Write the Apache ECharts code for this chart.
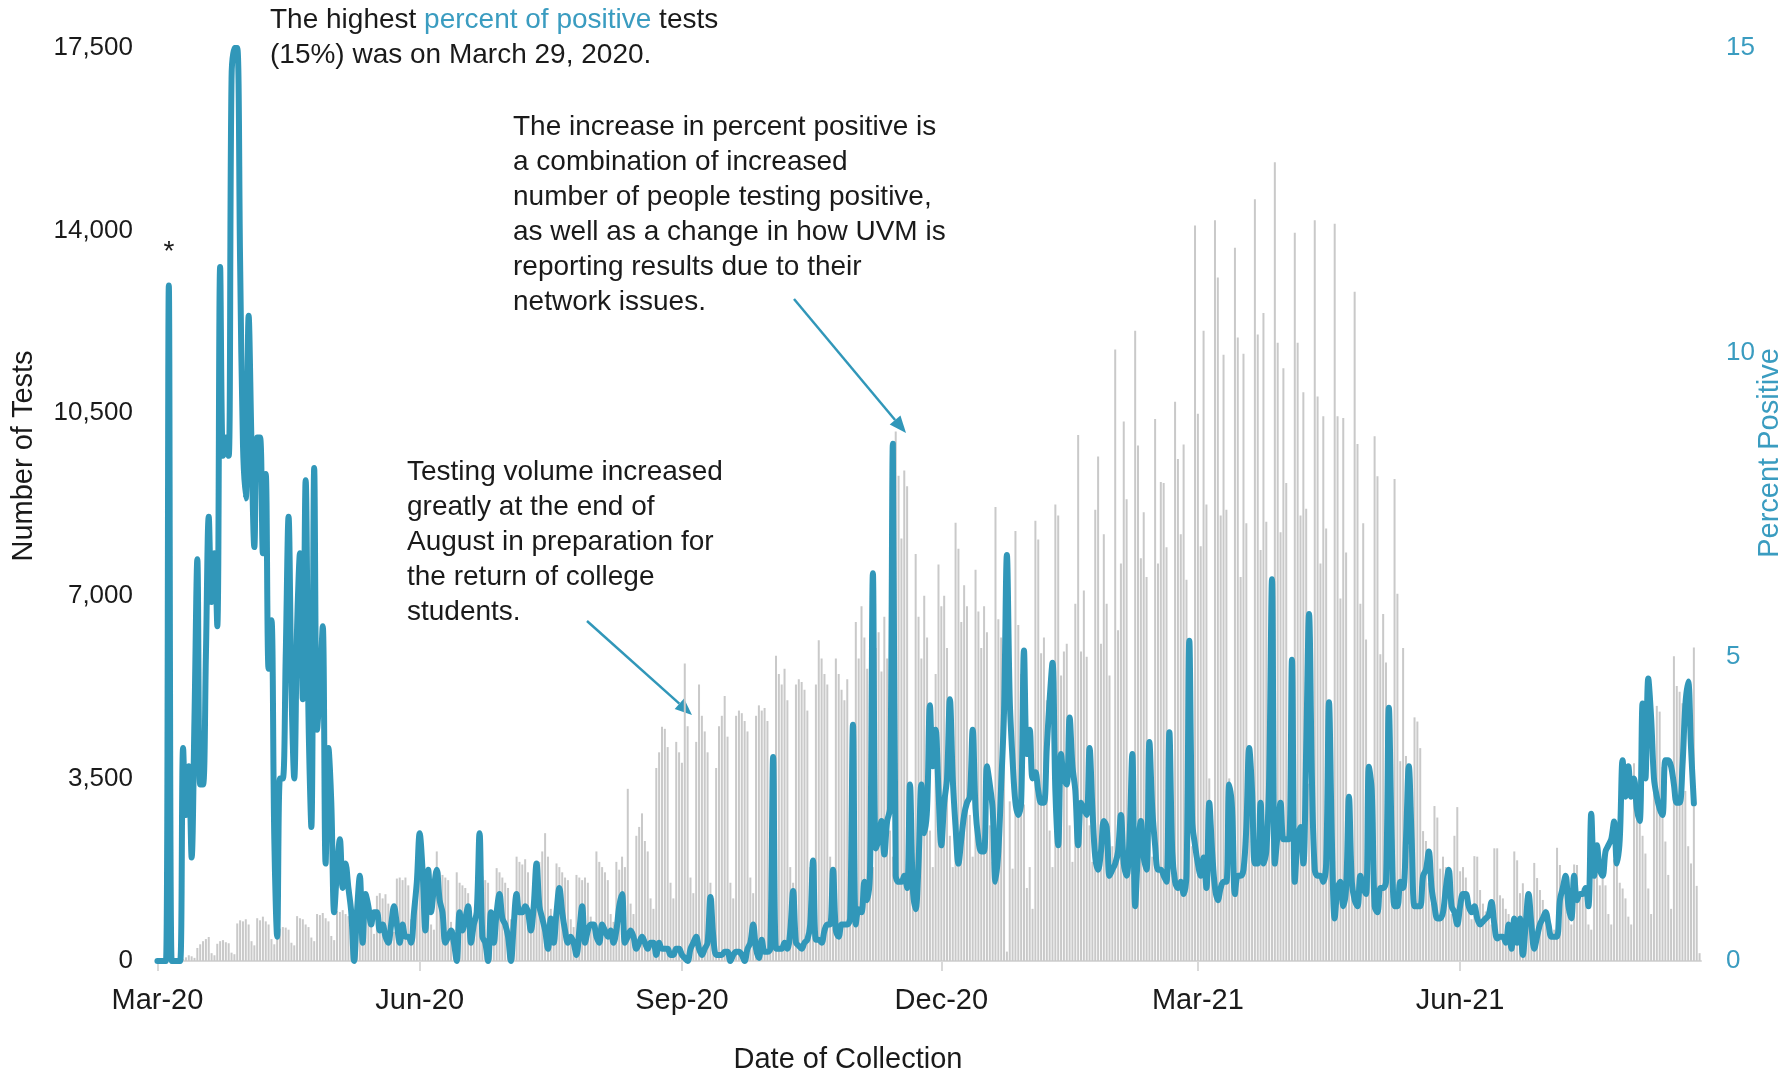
<!DOCTYPE html>
<html>
<head>
<meta charset="utf-8">
<title>Tests and percent positive</title>
<script src="https://cdn.jsdelivr.net/npm/echarts@6/dist/echarts.min.js"></script>
<style>
  html, body { margin: 0; padding: 0; background: #fff; }
  #chart { width: 1787px; height: 1075px; }
</style>
</head>
<body>
<div id="chart"></div>
<script>
// daily values from 2020-03-01, one row per week
const testsPerDay = [
  0, 0, 0, 2, 9, 1, 1,
  3, 6, 40, 70, 110, 90, 60,
  250, 320, 380, 420, 460, 150, 110,
  330, 380, 400, 360, 340, 160, 130,
  720, 780, 760, 800, 700, 380, 300,
  820, 780, 850, 760, 700, 420, 320,
  600, 620, 650, 640, 600, 350, 300,
  860, 820, 800, 700, 650, 450, 380,
  900, 880, 920, 820, 760, 480, 400,
  960, 940, 975, 900, 860, 520, 450,
  1280, 1300, 1320, 1250, 1150, 650, 520,
  1250, 1300, 1200, 1280, 1100, 700, 560,
  1580, 1600, 1550, 1600, 1450, 800, 650,
  1700, 1650, 1600, 1650, 1500, 700, 600,
  2100, 1700, 1650, 1600, 1550, 750, 600,
  1700, 1500, 1450, 1400, 1300, 700, 550,
  1650, 1600, 1620, 1550, 1500, 750, 600,
  1780, 1700, 1600, 1500, 1400, 800, 650,
  2000, 1900, 1850, 1950, 1700, 850, 700,
  1700, 1900, 2100, 2450, 2000, 1000, 800,
  1870, 1800, 1700, 1600, 1550, 800, 650,
  1650, 1600, 1550, 1600, 1500, 850, 700,
  2100, 1900, 1800, 1700, 1550, 900, 750,
  1900, 1750, 2000, 1800, 3300, 1100, 900,
  2400, 2570, 2830, 2300, 2100, 1200, 1000,
  3700, 4000, 4490, 4450, 4100, 1500, 1200,
  4200, 4000, 3800, 5700, 4500, 1600, 1300,
  4200, 5300, 4700, 4400, 4000, 1500, 1200,
  3700, 4500, 4700, 5080, 4300, 1500, 1200,
  4700, 4800, 4750, 4600, 4400, 1600, 1300,
  4700, 4900, 4800, 4850, 4600, 1700, 1400,
  5850, 5500, 5300, 5600, 5000, 1800, 1500,
  5300, 5400, 5350, 5200, 4800, 1800, 1500,
  5300, 6150, 5800, 5500, 5300, 2000, 1600,
  5800, 5500, 5200, 5000, 5400, 2000, 1600,
  6500, 5800, 6800, 6200, 5600, 2200, 1800,
  6000, 6300, 5550, 6600, 5800, 2500, 2000,
  10150, 9300, 8100, 9400, 9100, 3000, 2200,
  7800, 6600, 5800, 7000, 6200, 2500, 1800,
  5500, 7600, 6800, 7000, 6000, 2400, 1800,
  8400, 7900, 6500, 7200, 6800, 2800, 2000,
  7500, 6700, 6000, 6800, 6300, 2600, 1900,
  8700, 6550, 6200, 5800, 180, 3060, 1770,
  8240, 6440, 5500, 3000, 1400, 1800, 1000,
  8440, 8080, 5900, 6200, 5000, 2500, 1800,
  8750, 8540, 5470, 5930, 6080, 2600, 1900,
  6850, 10080, 5930, 7100, 5830, 2600, 1900,
  8650, 9670, 6080, 8180, 6850, 5470, 2200,
  11720, 6340, 7620, 10340, 8850, 3000, 2000,
  12080, 9880, 7720, 8600, 7360, 3000, 2000,
  10390, 7620, 9180, 9160, 7930, 3200, 2200,
  10720, 9620, 8180, 9900, 7310, 3200, 2200,
  14100, 10490, 7950, 12080, 8750, 3500, 2400,
  14200, 13100, 8540, 11620, 8650, 3500, 2400,
  13670, 11950, 7360, 11640, 8390, 3400, 2300,
  14600, 12010, 7880, 12420, 8420, 3500, 2400,
  15310, 11850, 8220, 11360, 9160, 3600, 2500,
  13960, 11850, 8540, 10900, 8670, 3400, 2400,
  14200, 10820, 7620, 10440, 8290, 3300, 2300,
  14130, 10440, 6950, 10410, 7830, 3200, 2200,
  12830, 9910, 6850, 8390, 6160, 2900, 2000,
  10060, 9290, 5880, 6650, 5720, 2600, 1800,
  9240, 7040, 3830, 6000, 3930, 2200, 1500,
  4670, 4590, 4080, 2490, 2300, 1500, 1100,
  2970, 2750, 1770, 2000, 1800, 1200, 900,
  2400, 2950, 1720, 1800, 1600, 1100, 800,
  2010, 2000, 1360, 1100, 950, 900, 700,
  2160, 2160, 1260, 1200, 1000, 900, 700,
  2100, 1930, 1300, 1490, 1200, 900, 700,
  1880, 1590, 1360, 1170, 1000, 700, 500,
  600, 2170, 1840, 1500, 1300, 900, 700,
  1850, 1840, 1300, 1400, 1200, 700, 600,
  2190, 2000, 1450, 1600, 1450, 900, 700,
  1950, 1950, 1500, 1390, 1200, 850, 700,
  3790, 2700, 2700, 2400, 2060, 1390, 900,
  3500, 4890, 4780, 3720, 2290, 1650, 1000,
  5840, 5270, 5160, 4940, 3260, 2200, 1870,
  6010, 1440, 150
]

const percentPositive = [
  0, 0, 0, 0, 11.1, 0, 0,
  0, 0, 3.5, 2.4, 3.2, 1.7, 4.0,
  6.6, 2.9, 2.9, 5.0, 7.3, 5.9, 6.7,
  5.5, 11.4, 8.3, 8.6, 8.3, 14.5, 15,
  15, 11.5, 8.5, 7.6, 10.6, 8.5, 6.8,
  8.6, 8.6, 6.7, 8.0, 4.8, 5.6, 2.0,
  0.4, 3.0, 3.0, 5.0, 7.3, 4.5, 3.0,
  5.5, 6.7, 4.3, 7.9, 4.0, 2.2, 8.1,
  3.8, 4.5, 5.5, 1.6, 3.5, 2.6, 0.8,
  1.5, 2.0, 1.2, 1.6, 1.2, 0.8, 0.0,
  0.8, 1.4, 0.3, 1.1, 0.9, 0.6, 0.8,
  0.8, 0.5, 0.6, 0.4, 0.3, 0.6, 0.9,
  0.6, 0.3, 0.6, 0.4, 0.4, 0.3, 0.8,
  1.3, 2.1, 1.5, 0.5, 1.5, 0.8, 1.2,
  1.5, 1.0, 0.8, 0.3, 0.4, 0.5, 0.3,
  0.0, 0.8, 0.5, 0.7, 0.9, 0.3, 0.6,
  0.8, 2.1, 0.4, 0.3, 0.0, 0.8, 0.3,
  0.8, 1.1, 0.7, 0.6, 0.4, 0.0, 0.6,
  1.1, 0.8, 0.8, 0.9, 0.8, 0.5, 0.9,
  1.6, 0.9, 0.7, 0.5, 0.2, 0.7, 0.3,
  0.8, 1.2, 0.8, 0.5, 0.3, 0.4, 0.3,
  0.1, 0.5, 0.9, 0.3, 0.5, 0.6, 0.6,
  0.4, 0.3, 0.6, 0.5, 0.4, 0.5, 0.3,
  0.5, 0.9, 1.1, 0.3, 0.4, 0.5, 0.4,
  0.2, 0.3, 0.4, 0.3, 0.2, 0.3, 0.3,
  0.1, 0.3, 0.2, 0.2, 0.2, 0.1, 0.1,
  0.2, 0.2, 0.1, 0.05, 0.0, 0.2, 0.3,
  0.4, 0.2, 0.1, 0.2, 0.3, 1.05, 0.4,
  0.1, 0.1, 0.1, 0.15, 0.15, 0.0, 0.1,
  0.15, 0.15, 0.1, 0.0, 0.2, 0.3, 0.6,
  0.2, 0.05, 0.35, 0.15, 0.15, 0.2, 3.35,
  0.2, 0.2, 0.2, 0.3, 0.2, 0.5, 1.15,
  0.3, 0.25, 0.2, 0.3, 0.35, 0.6, 1.65,
  0.35, 0.35, 0.3, 0.5, 0.6, 0.6, 1.5,
  0.5, 0.4, 0.6, 0.6, 0.6, 0.7, 3.88,
  0.6, 0.85, 0.8, 1.3, 1.0, 1.5, 6.37,
  1.85, 2.0, 2.3, 1.75, 2.3, 2.5, 8.5,
  1.4, 1.3, 1.3, 1.4, 1.2, 2.9, 1.2,
  0.85, 1.6, 2.9, 2.1, 2.5, 4.2, 3.2,
  3.8, 2.8, 1.9, 2.6, 3.0, 4.3, 3.0,
  2.2, 1.6, 2.0, 2.4, 2.6, 2.7, 3.8,
  2.5, 2.0, 1.8, 1.8, 3.2, 2.9, 2.5,
  1.3, 1.8, 2.9, 4.1, 6.67, 4.3, 3.3,
  2.6, 2.4, 2.6, 5.1, 3.4, 3.8, 3.0,
  3.1, 2.8, 2.6, 2.6, 3.5, 4.3, 4.9,
  2.8, 1.9, 3.4, 3.0, 2.9, 4.0, 3.2,
  2.8, 1.9, 2.6, 2.5, 2.4, 3.5, 2.5,
  1.7, 1.5, 1.8, 2.3, 2.2, 1.4, 1.5,
  1.6, 1.8, 2.4, 1.6, 1.4, 2.0, 3.4,
  0.9, 1.8, 2.3, 1.7, 1.5, 3.6, 2.5,
  1.9, 1.5, 1.5, 1.4, 1.3, 3.76, 1.8,
  1.3, 1.2, 1.3, 1.1, 1.4, 5.26, 2.3,
  1.9, 1.6, 1.4, 1.7, 1.2, 2.6, 1.8,
  1.2, 1.0, 1.2, 1.3, 1.3, 2.9, 2.5,
  1.1, 1.4, 1.4, 1.5, 2.2, 3.5, 2.8,
  1.6, 1.6, 2.6, 1.6, 1.8, 3.0, 6.27,
  1.6, 2.1, 2.6, 2.0, 2.0, 2.0, 4.95,
  1.3, 2.0, 2.2, 1.6, 3.5, 5.7, 3.0,
  1.5, 1.4, 1.4, 1.3, 1.6, 4.25, 2.0,
  0.7, 1.2, 1.3, 0.9, 1.2, 2.7, 1.3,
  1.0, 0.9, 1.4, 1.2, 1.1, 3.19, 2.8,
  0.9, 0.8, 1.2, 1.2, 1.3, 4.16, 2.0,
  0.9, 0.9, 1.3, 1.2, 2.0, 3.2, 2.0,
  0.9, 0.9, 0.9, 1.4, 1.5, 1.8, 1.2,
  0.9, 0.7, 0.7, 0.8, 1.2, 1.5, 0.9,
  0.8, 0.6, 0.9, 1.1, 1.1, 0.9, 0.8,
  0.9, 0.7, 0.6, 0.65, 0.7, 0.75, 0.97,
  0.6, 0.37, 0.4, 0.4, 0.3, 0.6, 0.2,
  0.7, 0.3, 0.7, 0.1, 0.6, 1.1, 0.6,
  0.2, 0.4, 0.6, 0.7, 0.8, 0.6, 0.4,
  0.4, 0.4, 1.0, 1.2, 1.4, 0.9, 0.7,
  1.4, 1.0, 1.1, 1.1, 1.2, 0.9, 2.42,
  1.4, 1.9, 1.5, 1.4, 1.8, 1.9, 2.0,
  2.29, 1.6, 2.0, 3.3, 2.7, 3.2, 2.7,
  3.0, 2.5, 2.3, 4.23, 3.0, 4.64, 4.0,
  3.0, 2.7, 2.5, 2.4, 3.3, 3.3, 3.2,
  2.9, 2.6, 2.6, 3.2, 4.2, 4.59, 3.5,
  2.59, null, null
]

const tickDates = ['2020-03-01', '2020-06-01', '2020-09-01', '2020-12-01', '2021-03-01', '2021-06-01']
const tickLabels = ['Mar-20', 'Jun-20', 'Sep-20', 'Dec-20', 'Mar-21', 'Jun-21']
const testTicks = [0, 3500, 7000, 10500, 14000, 17500]
const percentTicks = [0, 5, 10, 15]

// one category per collection day
const startDay = Date.UTC(2020, 2, 1)
const days = testsPerDay.map((v, i) => new Date(startDay + i * 86400000).toISOString().slice(0, 10))

const TEAL = '#3197b9'
const TEAL_TEXT = '#3a9cc0'
const INK = '#1a1a1a'
const FONT = '"Liberation Sans", Arial, sans-serif'

const isTick = (index, value) => tickDates.indexOf(value) >= 0

function arrow(x1, y1, x2, y2) {
  const ang = Math.atan2(y2 - y1, x2 - x1)
  const len = 17
  const half = 7
  const bx = x2 - len * Math.cos(ang)
  const by = y2 - len * Math.sin(ang)
  const nx = -Math.sin(ang)
  const ny = Math.cos(ang)
  return [
    {
      type: 'line',
      shape: { x1: x1, y1: y1, x2: bx, y2: by },
      style: { stroke: TEAL, lineWidth: 2.5 }
    },
    {
      type: 'polygon',
      shape: { points: [[x2, y2], [bx + nx * half, by + ny * half], [bx - nx * half, by - ny * half]] },
      style: { fill: TEAL }
    }
  ]
}

function note(x, y, text, extra) {
  return Object.assign({
    type: 'text',
    x: x,
    y: y,
    style: {
      text: text,
      fill: INK,
      font: '28px ' + FONT,
      lineHeight: 35,
      verticalAlign: 'top'
    }
  }, extra || {})
}

const chart = echarts.init(document.getElementById('chart'))

chart.setOption({
  animation: false,
  textStyle: { fontFamily: FONT },
  grid: { left: 156, right: 86, top: 48, bottom: 114 },
  xAxis: {
    type: 'category',
    data: days,
    boundaryGap: true,
    axisLine: { lineStyle: { color: '#d9d9d9', width: 2 } },
    axisTick: {
      show: true,
      interval: isTick,
      alignWithLabel: true,
      length: 10,
      lineStyle: { color: '#d9d9d9', width: 2 }
    },
    axisLabel: {
      interval: isTick,
      margin: 25,
      fontSize: 29,
      color: INK,
      fontFamily: FONT,
      formatter: v => tickLabels[tickDates.indexOf(v)]
    },
    splitLine: { show: false }
  },
  yAxis: [
    {
      type: 'value',
      min: testTicks[0],
      max: testTicks[testTicks.length - 1],
      interval: 3500,
      axisLine: { show: false },
      axisTick: { show: false },
      splitLine: { show: false },
      axisLabel: {
        margin: 23,
        fontSize: 26,
        color: INK,
        fontFamily: FONT,
        formatter: v => v.toLocaleString('en-US')
      }
    },
    {
      type: 'value',
      min: percentTicks[0],
      max: percentTicks[percentTicks.length - 1],
      interval: 5,
      axisLine: { show: false },
      axisTick: { show: false },
      splitLine: { show: false },
      axisLabel: {
        margin: 25,
        fontSize: 26,
        color: TEAL_TEXT,
        fontFamily: FONT
      }
    }
  ],
  series: [
    {
      name: 'Number of Tests',
      type: 'bar',
      yAxisIndex: 0,
      data: testsPerDay,
      barWidth: 2,
      itemStyle: { color: '#c9c9c9' },
      silent: true
    },
    {
      name: 'Percent Positive',
      type: 'line',
      yAxisIndex: 1,
      data: percentPositive,
      smooth: 0.35,
      showSymbol: false,
      clip: false,
      lineStyle: { color: TEAL, width: 6, cap: 'round', join: 'round' },
      silent: true
    }
  ],
  graphic: [
    // axis titles
    {
      type: 'text', x: 24, y: 456, rotation: Math.PI / 2,
      style: { text: 'Number of Tests', fill: INK, font: '29px ' + FONT, align: 'center', verticalAlign: 'middle' }
    },
    {
      type: 'text', x: 1770, y: 453, rotation: Math.PI / 2,
      style: { text: 'Percent Positive', fill: TEAL_TEXT, font: '29px ' + FONT, align: 'center', verticalAlign: 'middle' }
    },
    {
      type: 'text', x: 848, y: 1060,
      style: { text: 'Date of Collection', fill: INK, font: '29px ' + FONT, align: 'center', verticalAlign: 'middle' }
    },
    // annotations
    note(270, 3, 'The highest {hl|percent of positive} tests\n(15%) was on March 29, 2020.', {
      style: {
        text: 'The highest {hl|percent of positive} tests\n(15%) was on March 29, 2020.',
        fill: INK,
        font: '28px ' + FONT,
        lineHeight: 35,
        verticalAlign: 'top',
        rich: { hl: { fill: TEAL_TEXT, font: '28px ' + FONT, lineHeight: 35 } }
      }
    }),
    note(513, 110, 'The increase in percent positive is\na combination of increased\nnumber of people testing positive,\nas well as a change in how UVM is\nreporting results due to their\nnetwork issues.'),
    note(407, 455, 'Testing volume increased\ngreatly at the end of\nAugust in preparation for\nthe return of college\nstudents.'),
    {
      type: 'text', x: 169, y: 252,
      style: { text: '*', fill: INK, font: '28px ' + FONT, align: 'center', verticalAlign: 'middle' }
    }
  ].concat(arrow(794, 299, 906, 433), arrow(587, 621, 692, 715))
})
</script>
</body>
</html>
